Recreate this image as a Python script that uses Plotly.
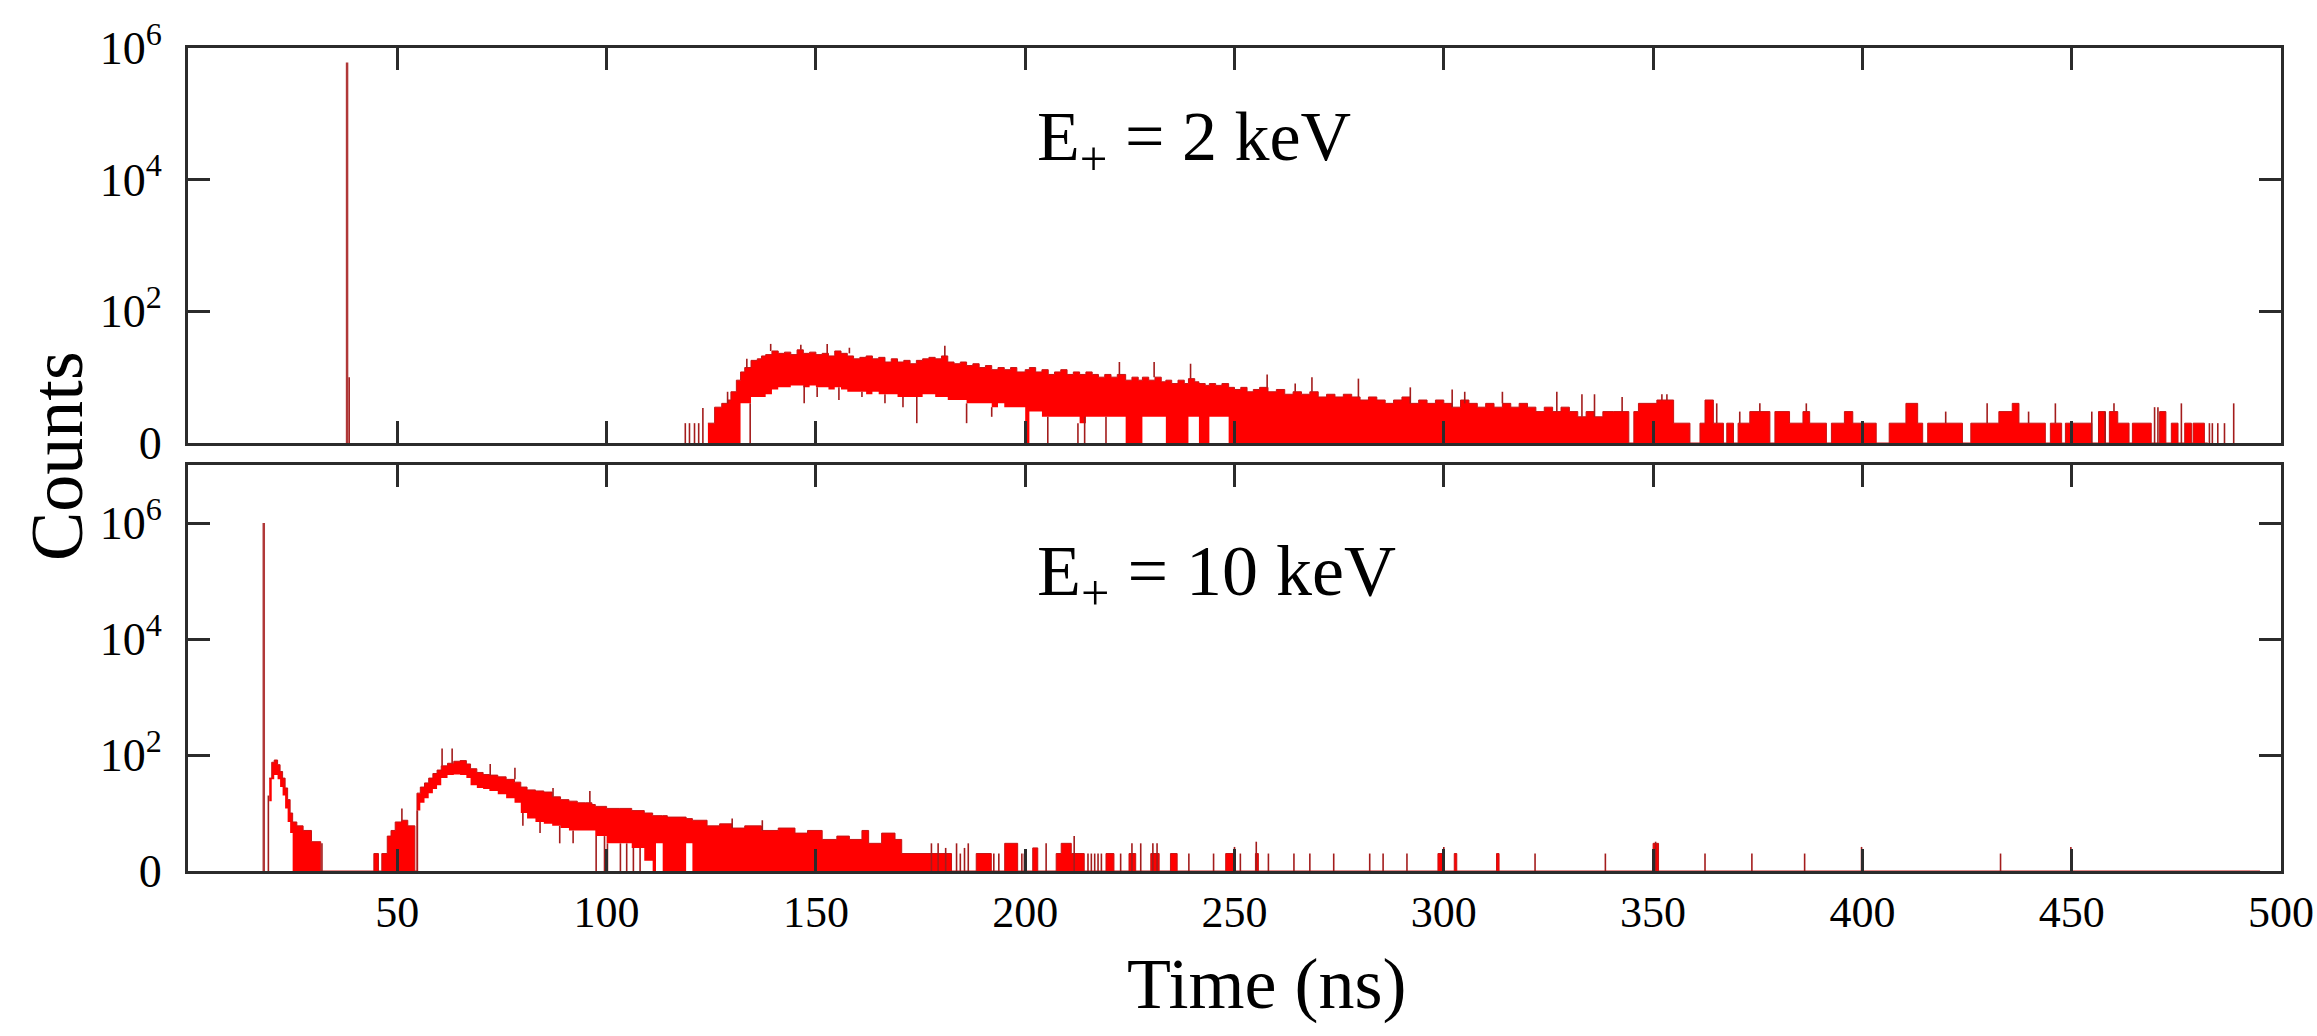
import plotly.graph_objects as go

# ---------------- data: E+ = 2 keV (top panel) ----------------
peak_t_2kev = [38.0]
peak_h_2kev = [6.0e5]

# histogram band: bin edges, upper and lower count envelope per bin
t_2kev = [124.2, 125.8, 127.5, 129.0, 129.7, 131.0, 132.0, 133.0, 134.5, 136.0, 137.0, 138.0,
          139.5, 141.0, 142.5, 144.0, 145.5, 147.0, 148.5, 150.0, 151.5, 153.0, 154.5, 156.0,
          157.5, 159.0, 160.5, 162.0, 163.5, 165.0, 166.5, 168.0, 169.5, 171.0, 172.5, 174.0,
          175.5, 177.0, 178.5, 180.0, 181.5, 183.0, 184.5, 186.0, 187.5, 189.0, 190.5, 192.0,
          193.5, 195.0, 196.5, 198.0, 200.0, 201.0, 202.5, 204.0, 205.5, 207.0, 208.5, 210.0,
          211.5, 213.0, 214.5, 216.0, 217.5, 219.0, 220.5, 222.0, 224.0, 225.5, 227.0, 228.0,
          229.5, 231.0, 232.5, 233.6, 235.0, 236.5, 238.0, 239.0, 240.5, 241.5, 243.0, 244.0,
          245.5, 247.0, 248.6, 250.0, 251.5, 253.0, 254.5, 256.0, 258.0, 260.0, 262.0, 264.0,
          266.0, 268.0, 270.0, 272.0, 274.0, 276.0, 278.0, 280.0, 282.0, 284.0, 286.0, 288.0,
          290.0, 292.0, 294.0, 296.0, 298.0, 300.0, 302.0, 304.0, 306.0, 308.0, 310.0, 312.0,
          314.0, 316.0, 318.0, 320.0, 322.0, 324.0, 326.0, 328.0, 330.0, 332.0, 334.0, 336.0,
          338.0, 340.6, 344.2, 345.4, 346.5, 350.9, 354.9, 358.8, 361.2, 362.4, 364.4, 366.8,
          367.6, 369.2, 370.3, 373.1, 377.9, 379.1, 382.6, 385.8, 387.4, 391.4, 392.6, 395.7,
          397.7, 403.3, 406.4, 410.4, 413.2, 414.4, 415.6, 423.9, 425.9, 432.6, 435.8, 437.4,
          443.7, 444.9, 447.6, 448.5, 454.8, 456.4, 458.0, 459.0, 461.0, 463.7, 464.5, 469.0,
          471.0, 472.5, 473.8, 475.4, 477.0, 478.6, 479.0, 481.7, 482.5]
hi_2kev = [2, 3.5, 4, 4.5, 6, 9, 12, 14, 18, 19, 21, 22,
           25, 23, 24, 22, 26, 23, 24, 22, 23, 21, 25, 23,
           21, 19, 20, 21, 19, 20, 17, 19, 17, 18, 16, 18,
           19, 20, 19, 21, 17, 16, 17, 15, 16, 14, 15, 13,
           14, 13, 14, 12, 13, 14, 12, 13, 11, 12, 13, 11,
           12, 11, 12, 11, 10, 11, 10, 11, 9, 10, 9, 10,
           9, 10, 8.5, 9, 8, 9, 8, 9.5, 8.5, 8, 7.5, 8,
           7.5, 8, 7, 6.5, 7, 6, 6.5, 7, 6, 6.5, 5.5, 6,
           5.5, 6, 5, 5.5, 5, 5.5, 5, 4.5, 5, 4.5, 4, 4.5,
           5, 4, 4.5, 4, 4.5, 4, 3.5, 4.5, 4, 3.5, 4, 3.5,
           4, 3.5, 4, 3.5, 3, 3.5, 3, 3.5, 3, 2.5, 3, 2.5,
           3, 3, 1, 3, 4, 4.5, 2, 1, 2, 4.5, 2, 1,
           2, 1, 2, 3, 1, 3, 2, 3, 2, 1, 2, 3,
           2, 1, 2, 4, 2, 1, 2, 1, 2, 3, 4, 2,
           1, 2, 1, 2, 1, 3, 1, 3, 2, 1, 2, 1,
           3, 1, 2, 1, 2, 1, 2, 1]
lo_2kev = [1, 1, 1, 1, 1, 1, 4, 4, 5, 5, 5, 5.5,
           6.5, 7, 7, 7.5, 7.5, 7, 7.5, 7, 7, 6.5, 7, 6.5,
           6, 6, 6, 5.5, 6, 5.5, 5.5, 5.5, 5, 5, 5, 5,
           5.5, 5.5, 5, 5, 4.5, 4.5, 4.5, 4, 4, 4, 4, 3.5,
           4, 3.5, 3.5, 3.5, 1, 3, 3, 2.5, 2.5, 2.5, 2.5, 2.5,
           2.5, 2, 2.5, 2.5, 2.5, 2.5, 2.5, 2.5, 1, 1, 1, 2.5,
           2.5, 2.5, 2.5, 1, 1, 1, 1, 2.5, 2.5, 1, 1, 2.5,
           2.5, 2.5, 1, 1, 1, 1, 1, 1, 1, 1, 1, 1,
           1, 1, 1, 1, 1, 1, 1, 1, 1, 1, 1, 1,
           1, 1, 1, 1, 1, 1, 1, 1, 1, 1, 1, 1,
           1, 1, 1, 1, 1, 1, 1, 1, 1, 1, 1, 1,
           1, 1, 1, 1, 1, 1, 1, 1, 1, 1, 1, 1,
           1, 1, 1, 1, 1, 1, 1, 1, 1, 1, 1, 1,
           1, 1, 1, 1, 1, 1, 1, 1, 1, 1, 1, 1,
           1, 1, 1, 1, 1, 1, 1, 1, 1, 1, 1, 1,
           1, 1, 1, 1, 1, 1, 1, 1]

# single-bin spikes / dips: time, lower and upper count
spk_t_2kev = [38.5, 118.8, 119.8, 121.0, 122.0, 123.0, 128.9, 133.5, 134.3, 139.2, 146.4, 147.2,
              150.3, 152.7, 155.5, 158.0, 161.0, 166.5, 170.8, 174.1, 180.8, 186.0, 192.0, 205.4,
              212.6, 214.2, 219.3, 222.5, 230.8, 239.5, 257.8, 264.5, 268.5, 279.6, 292.0, 302.0,
              305.0, 314.0, 327.0, 333.0, 336.0, 342.6, 352.1, 353.3, 365.2, 370.7, 375.5, 386.6,
              419.9, 429.8, 439.7, 446.1, 454.8, 458.0, 460.1, 469.8, 470.6, 476.2, 482.9, 483.6,
              484.9, 486.5, 488.7]
spk_y0_2kev = [1, 1, 1, 1, 1, 1, 4, 14, 1, 25, 26, 4,
               5, 23, 4.5, 23, 5, 4, 3.5, 2, 21, 2, 2.5, 1,
               1, 1, 1, 11, 10, 9.5, 7, 6, 6, 5, 4, 3.5,
               4, 4, 3, 2.5, 2.5, 3, 4.5, 4.5, 2, 2, 3, 3,
               2, 2, 2, 2, 1, 1, 3, 1, 1, 1, 1, 1,
               1, 1, 1]
spk_y1_2kev = [10, 2, 2, 2, 2, 3.4, 6, 19, 4, 32, 31, 7.5,
               7, 32, 7, 28, 6, 5.5, 5, 5, 30, 4, 3.5, 2.5,
               2, 2.5, 2.5, 17, 17, 16, 11, 8, 10, 9.5, 7, 6.5,
               6, 6, 6, 5.5, 5.5, 5, 5.5, 5.5, 4, 3, 4, 4,
               3, 4, 3, 4, 3, 3, 4, 3.5, 3.5, 4, 2, 2,
               2, 2, 4]

# ---------------- data: E+ = 10 keV (bottom panel) ----------------
peak_t_10kev = [18.1]
peak_h_10kev = [1.0e6]

t_10kev = [19.4, 20.0, 20.6, 21.4, 22.0, 22.6, 23.2, 23.8, 24.4, 25.0, 26.0, 27.5,
           29.5, 31.7, 44.4, 45.5, 46.3, 47.6, 48.5, 49.5, 51.0, 52.5, 54.2, 54.7,
           55.5, 56.5, 57.5, 58.5, 59.5, 60.5, 62.0, 63.5, 65.0, 66.5, 67.5, 69.0,
           70.5, 72.0, 74.0, 76.0, 78.0, 79.5, 81.0, 83.0, 85.0, 87.0, 89.0, 91.0,
           93.0, 95.0, 96.5, 97.3, 100.0, 103.0, 106.0, 109.0, 111.0, 111.8, 113.4, 114.5,
           119.0, 120.5, 124.0, 127.0, 130.0, 133.0, 137.0, 141.0, 145.0, 148.0, 151.5, 155.0,
           158.0, 161.0, 162.6, 165.7, 168.9, 170.5, 182.4, 188.3, 191.9, 195.1, 198.2, 201.8,
           203.0, 207.4, 208.6, 211.0, 214.1, 219.3, 221.2, 224.8, 226.4, 230.0, 232.0, 234.7,
           236.3, 247.9, 249.8, 255.0, 255.7, 298.6, 299.7, 302.5, 303.1, 312.6, 313.2, 350.0,
           351.3, 495.0]
hi_10kev = [40, 75, 82, 68, 52, 40, 27, 17, 10, 7, 6, 5,
            3.2, 1, 2, 1, 2, 4, 5, 7, 7.5, 6, 1, 22,
            28, 33, 40, 48, 55, 65, 72, 78, 80, 70, 58, 50,
            46, 45, 42, 38, 34, 28, 25, 24, 23, 19, 17, 16,
            15, 15, 14, 13, 12, 12, 11, 10, 9, 9, 9, 8.5,
            8, 7.5, 6, 6.5, 5.5, 6, 5, 5.5, 4.5, 5, 3.5, 4,
            3.5, 5, 3, 4.5, 3.5, 2, 1, 2, 1, 3, 1, 2.5,
            1, 2, 3, 2, 1, 2, 1, 2, 1, 2, 1, 2,
            1, 2, 1, 2, 1, 2, 1, 2, 1, 2, 1, 3,
            1]
lo_10kev = [16, 38, 45, 38, 28, 20, 12, 7, 4.5, 1, 1, 1,
            1, 1, 1, 1, 1, 1, 1, 1, 1, 1, 1, 11,
            15, 18, 22, 26, 30, 40, 45, 46, 45, 40, 30, 27,
            26, 24, 21, 18, 15, 10, 8, 7, 6.5, 6, 5.5, 5,
            5, 5, 5, 4, 3, 3, 2.5, 1.5, 1, 3, 1, 1,
            3, 1, 1, 1, 1, 1, 1, 1, 1, 1, 1, 1,
            1, 1, 1, 1, 1, 1, 1, 1, 1, 1, 1, 1,
            1, 1, 1, 1, 1, 1, 1, 1, 1, 1, 1, 1,
            1, 1, 1, 1, 1, 1, 1, 1, 1, 1, 1, 1,
            1]

spk_t_10kev = [19.2, 32.0, 51.1, 54.8, 60.7, 63.1, 72.2, 78.1, 80.0, 84.1, 87.2, 88.8,
               92.0, 96.0, 97.5, 99.5, 100.2, 103.3, 104.8, 106.4, 108.0, 130.0, 137.2, 177.6,
               179.2, 181.0, 183.6, 184.5, 185.5, 186.4, 192.5, 193.7, 199.2, 199.8, 205.0, 211.7,
               215.0, 215.8, 216.6, 217.4, 218.2, 222.8, 225.5, 227.6, 230.5, 231.5, 239.1, 245.0,
               250.0, 251.4, 255.2, 258.1, 264.2, 268.0, 273.7, 282.3, 285.5, 291.2, 300.0, 321.8,
               338.6, 350.6, 362.4, 373.6, 386.2, 399.8, 433.0, 449.8]
spk_y0_10kev = [1, 1, 7.5, 1, 65, 72, 45, 38, 6, 4.5, 19, 3,
                3, 15, 1, 1, 1, 1, 1, 1, 1, 5.5, 5, 1,
                1, 1, 1, 1, 1, 1, 1, 1, 1, 1, 1, 1,
                1, 1, 1, 1, 1, 1, 1, 1, 1, 1, 1, 1,
                1, 1, 1, 1, 1, 1, 1, 1, 1, 1, 1, 1,
                1, 1, 1, 1, 1, 1, 1, 1]
spk_y1_10kev = [20, 3, 12, 11, 130, 130, 70, 60, 10, 7, 27, 6,
                5, 24, 4, 4, 3, 3, 3, 2.5, 2.5, 8, 7.5, 3,
                3, 2.5, 3, 2, 2.5, 3, 2, 2, 2, 2, 3, 4,
                2, 2, 2, 2, 2, 2, 3, 3, 3, 3, 2, 2,
                2.6, 2, 3.2, 2, 2, 2, 2, 2, 2, 2, 2.6, 2,
                2, 3.2, 2, 2, 2, 2.6, 2, 2.6]

y_tickvals = [1, 1e2, 1e4, 1e6]
y_ticktext = ["0", "10<sup>2</sup>", "10<sup>4</sup>", "10<sup>6</sup>"]
x_tickvals = [50, 100, 150, 200, 250, 300, 350, 400, 450, 500]
panel_labels = ["E<sub>+</sub> = 2 keV", "E<sub>+</sub> = 10 keV"]

# ---------------- figure ----------------
W, H = 2317, 1036
ML, MR, MT, MB = 188, 36, 48, 165
PW, PH = W - ML - MR, H - MT - MB


def px_x(px):
    return (px - ML) / PW


def px_y(py):
    return (H - MB - py) / PH


FILL = "#ff0000"
EDGE = "#c81414"
SPIKE = "#a31c1c"
PEAK = "#b03838"
AX = "#2b2b2b"
FONT = "Liberation Serif"

fig = go.Figure()


def add_panel(xa, ya, t, hi, lo, st, s0, s1, pt, ph):
    fig.add_trace(go.Scatter(x=t, y=lo + [lo[-1]], mode="lines", line=dict(shape="hv", width=0, color=FILL),
                             xaxis=xa, yaxis=ya, showlegend=False, hoverinfo="skip"))
    fig.add_trace(go.Scatter(x=t, y=hi + [hi[-1]], mode="lines", line=dict(shape="hv", width=1, color=EDGE),
                             fill="tonexty", fillcolor=FILL, xaxis=xa, yaxis=ya, showlegend=False))
    sx, sy = [], []
    for ti, a, b in zip(st, s0, s1):
        sx += [ti, ti, None]
        sy += [a, b, None]
    fig.add_trace(go.Scatter(x=sx, y=sy, mode="lines", line=dict(width=1.6, color=SPIKE),
                             xaxis=xa, yaxis=ya, showlegend=False, connectgaps=False))
    px, py = [], []
    for ti, h in zip(pt, ph):
        px += [ti, ti, None]
        py += [1, h, None]
    fig.add_trace(go.Scatter(x=px, y=py, mode="lines", line=dict(width=2.5, color=PEAK),
                             xaxis=xa, yaxis=ya, showlegend=False, connectgaps=False))


add_panel("x", "y", t_2kev, hi_2kev, lo_2kev, spk_t_2kev, spk_y0_2kev, spk_y1_2kev, peak_t_2kev, peak_h_2kev)
add_panel("x2", "y2", t_10kev, hi_10kev, lo_10kev, spk_t_10kev, spk_y0_10kev, spk_y1_10kev, peak_t_10kev, peak_h_10kev)

common_x = dict(range=[0, 500], tickvals=x_tickvals, ticks="inside", ticklen=22, tickwidth=3, tickcolor=AX,
                showline=True, linewidth=3, linecolor=AX, mirror="ticks", showgrid=False, zeroline=False,
                automargin=False)
common_y = dict(type="log", tickvals=y_tickvals, ticktext=y_ticktext, ticks="inside", ticklen=22, tickwidth=3,
                tickcolor=AX, showline=True, linewidth=3, linecolor=AX, mirror="ticks", showgrid=False,
                zeroline=False, automargin=False, ticklabelstandoff=14,
                tickfont=dict(family=FONT, size=46, color="black"))

top_bottom_px, low_top_px = 443, 465

fig.update_layout(
    width=W, height=H,
    margin=dict(l=ML, r=MR, t=MT, b=MB),
    paper_bgcolor="white", plot_bgcolor="white",
    xaxis=dict(common_x, anchor="y", domain=[0, 1], showticklabels=False),
    yaxis=dict(common_y, anchor="x", domain=[px_y(top_bottom_px), 1], range=[0, 6]),
    xaxis2=dict(common_x, anchor="y2", domain=[0, 1], showticklabels=True,
                tickfont=dict(family=FONT, size=44, color="black"), ticklabelstandoff=0),
    yaxis2=dict(common_y, anchor="x2", domain=[0, px_y(low_top_px)], range=[0, 7]),
    showlegend=False,
)

fig.add_annotation(text=panel_labels[0], x=px_x(1035), y=px_y(142), xref="paper", yref="paper",
                   xanchor="left", yanchor="middle", showarrow=False,
                   font=dict(family=FONT, size=70, color="black"))
fig.add_annotation(text=panel_labels[1], x=px_x(1035), y=px_y(576), xref="paper", yref="paper",
                   xanchor="left", yanchor="middle", showarrow=False,
                   font=dict(family=FONT, size=72, color="black"))
fig.add_annotation(text="Counts", x=px_x(57), y=px_y(456), xref="paper", yref="paper", textangle=-90,
                   xanchor="center", yanchor="middle", showarrow=False,
                   font=dict(family=FONT, size=74, color="black"))
fig.add_annotation(text="Time (ns)", x=px_x(1266), y=px_y(984), xref="paper", yref="paper",
                   xanchor="center", yanchor="middle", showarrow=False,
                   font=dict(family=FONT, size=72, color="black"))

fig.write_html("out.html", config={"displayModeBar": False},
               post_script="document.body.style.margin='0px';document.body.style.overflow='hidden';")
